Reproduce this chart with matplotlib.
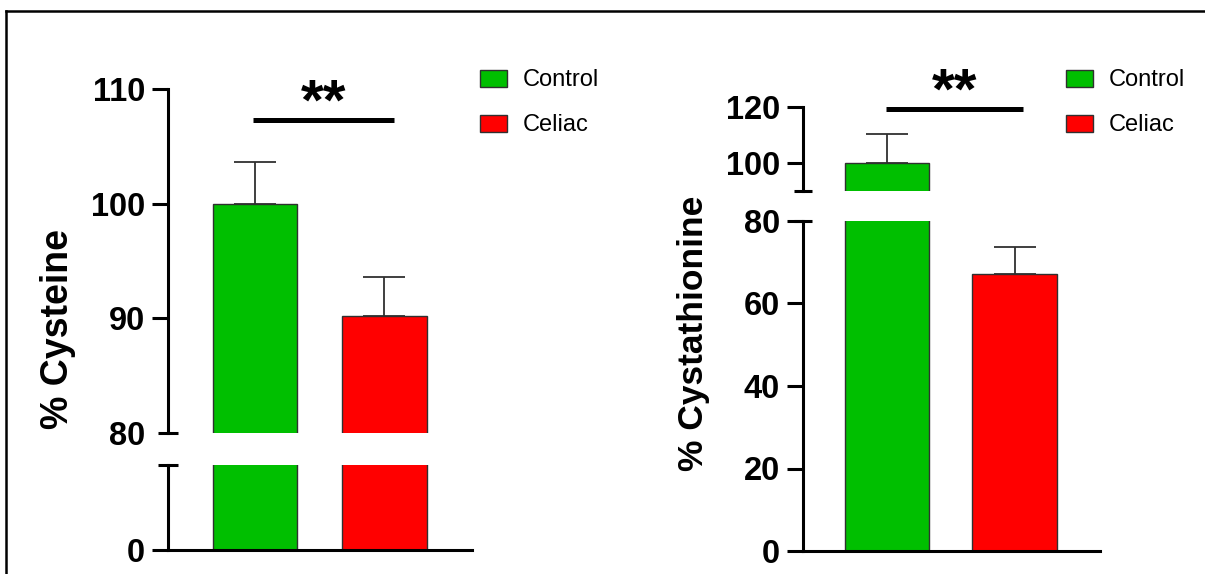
import matplotlib
matplotlib.use("Agg")
import matplotlib.pyplot as plt
from matplotlib.patches import Patch
from matplotlib.lines import Line2D

# ---- data ----
groups = ["Control", "Celiac"]
colors = ["#00BF00", "#FF0000"]
cys_mean = [100.0, 90.2]
cys_err = [3.6, 3.4]
cyst_mean = [100.0, 67.2]
cyst_err = [10.4, 6.5]
cys_sig_y = 107.3
cyst_sig_y = 119.3
sig_label = "**"

W, H = 1205, 574
DPI = 100
fig = plt.figure(figsize=(W / DPI, H / DPI), dpi=DPI)
plt.rcParams['font.family'] = ['Liberation Sans', 'DejaVu Sans']

def ax_px(x0, x1, ytop, ybot):
    return fig.add_axes([x0 / W, 1 - ybot / H, (x1 - x0) / W, (ybot - ytop) / H])

SPINE_LW = 2.2
TICK_LEN = 11.5
TICK_FS = 23.5

def style(ax, bottom_spine):
    for s in ["top", "right"]:
        ax.spines[s].set_visible(False)
    ax.spines["left"].set_linewidth(SPINE_LW)
    ax.spines["bottom"].set_linewidth(SPINE_LW)
    ax.spines["bottom"].set_visible(bottom_spine)
    ax.set_xticks([])
    ax.tick_params(axis="y", length=TICK_LEN, width=SPINE_LW, pad=5,
                   labelsize=TICK_FS)
    for lab in ax.get_yticklabels():
        lab.set_fontweight("bold")
    ax.patch.set_visible(False)

def cap(ax, y, half_px, axw_px):
    h = half_px / axw_px
    ax.plot([-h, h], [y, y], transform=ax.transAxes, color="black",
            lw=SPINE_LW, clip_on=False, solid_capstyle="butt")

def bars(ax, means, errs, width):
    x = list(range(len(means)))
    ax.bar(x, means, width=width, color=colors, edgecolor="#303030",
           linewidth=1.0, zorder=2)
    ax.errorbar(x, means, yerr=[[0] * len(errs), errs], fmt="none",
                ecolor="#303030", elinewidth=1.3, capsize=15, capthick=1.3,
                zorder=1)

def sig(ax, y, x0, x1):
    ax.plot([x0, x1], [y, y], color="black", lw=3.6, clip_on=False,
            solid_capstyle="butt")
    ax.annotate(sig_label, xy=((x0 + x1) / 2, y), xytext=(0, -8.6),
                textcoords="offset points", ha="center", va="bottom",
                fontsize=42, fontweight="bold")

# ---------------- Left panel: Cysteine ----------------
lx0, lx1 = 168, 472
lw_px = lx1 - lx0
l_xlim = (-0.672, 1.676)
axLU = ax_px(lx0, lx1, 89, 433)
axLL = ax_px(lx0, lx1, 465, 550)
for ax in (axLU, axLL):
    bars(ax, cys_mean, cys_err, 0.65)
    ax.set_xlim(*l_xlim)
axLU.set_ylim(80, 110)
axLU.set_yticks([80, 90, 100, 110])
axLL.set_ylim(0, 75)
axLL.set_yticks([0])
style(axLU, False)
style(axLL, True)
axLU.yaxis.get_major_ticks()[0].tick1line.set_visible(False)
cap(axLU, 0, 10, lw_px)
cap(axLL, 1, 10, lw_px)
sig(axLU, cys_sig_y, -0.015, 1.07)
fig.text(58 / W, 1 - 329 / H, "% Cysteine", rotation=90, ha="center",
         va="center", fontsize=27, fontweight="bold")

# ---------------- Right panel: Cystathionine ----------------
rx0, rx1 = 803, 1100
rw_px = rx1 - rx0
r_xlim = (-0.659, 1.67)
axRU = ax_px(rx0, rx1, 107, 191)
axRL = ax_px(rx0, rx1, 221, 551)
for ax in (axRU, axRL):
    bars(ax, cyst_mean, cyst_err, 0.66)
    ax.set_xlim(*r_xlim)
axRU.set_ylim(90, 120)
axRU.set_yticks([100, 120])
axRL.set_ylim(0, 80)
axRL.set_yticks([0, 20, 40, 60, 80])
style(axRU, False)
style(axRL, True)
cap(axRU, 0, 9, rw_px)
cap(axRL, 1, 9, rw_px)
sig(axRU, cyst_sig_y, -0.01, 1.065)
fig.text(693 / W, 1 - 333 / H, "% Cystathionine", rotation=90, ha="center",
         va="center", fontsize=25.5, fontweight="bold")

# ---------------- Legends ----------------
handles = [Patch(facecolor=c, edgecolor="#303030", linewidth=1.0) for c in colors]
for lx in (480, 1066):
    fig.legend(handles, groups, loc="upper left",
               bbox_to_anchor=(lx / W, 1 - 69.5 / H), frameon=False,
               fontsize=17, handlelength=1.14, handleheight=0.72,
               handletextpad=0.68, labelspacing=0.97, borderpad=0,
               borderaxespad=0)

# ---------------- Frame ----------------
fig.add_artist(Line2D([6 / W, 1.0], [1 - 11 / H, 1 - 11 / H], color="black",
                      lw=1.8, transform=fig.transFigure))
fig.add_artist(Line2D([6 / W, 6 / W], [0.0, 1 - 11 / H], color="black",
                      lw=1.8, transform=fig.transFigure))

fig.savefig("out.png", dpi=DPI)
